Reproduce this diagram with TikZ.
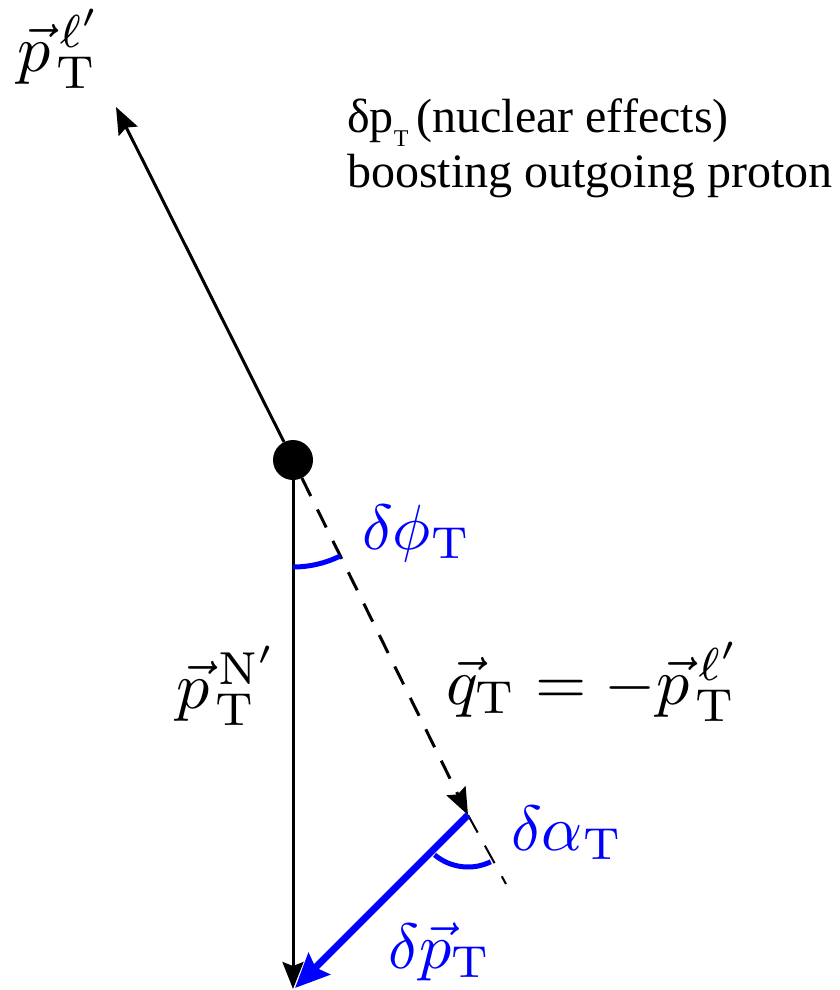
\documentclass[tikz,border=0pt]{standalone}
\usepackage{fontspec}
\newfontfamily\tnr{Liberation Serif}
\usetikzlibrary{arrows.meta}
\newcommand\MathBigK[1]{\scalebox{6.6}{#1}}
\newcommand\MathBigB[1]{\scalebox{6.4}{\color{blue}#1}}
\begin{document}
\begin{tikzpicture}[x=1pt,y=-1pt,
  blk/.style={line width=3pt,black},
  tipk/.style={-{Stealth[length=27pt,width=21pt,inset=4pt]}},
  dsh/.style={dash pattern=on 20pt off 15pt},
  bth/.style={blue,line width=7pt},
  barc/.style={blue,line width=5pt},
  mlab/.style={inner sep=0pt,anchor=base west},
  tlab/.style={inner sep=0pt,anchor=base west,font=\tnr\fontsize{48}{55}\selectfont}]
\useasboundingbox (0,0) rectangle (840,990);
\node[circle,fill=black,minimum size=40pt,inner sep=0pt] (v) at (293,460) {};
\coordinate (pl) at (116,107);
\coordinate (qe) at (468,815);
\coordinate (de) at (506,884);
\coordinate (pn) at (293,989);
\coordinate (dp) at (295,988);
% vectors
\draw[blk,tipk] (v) -- (pl);
\draw[blk,tipk] (v) -- (pn);
\draw[blk,dsh,tipk] (v) -- (qe);
\draw[blk,dsh,line width=2pt] (qe) -- (de);
\draw[bth,-{Stealth[length=34pt,width=30pt,inset=5pt]}] (qe) -- (dp);
% angles
\draw[barc] (v.center) ++(90:107) arc[start angle=90,end angle=63.8,radius=107];
\draw[barc] (qe) ++(130:52) arc[start angle=130,end angle=64,radius=52];
% labels
\node[mlab] (lpl) at (17,71) {\MathBigK{${\vec p}^{\mkern3mu\ell'}_{\mkern2mu\mathrm T}$}};
\node[mlab] (lpn) at (176,708) {\MathBigK{${\vec p}^{\mkern3mu\mathrm{N}'}_{\mkern2mu\mathrm T}$}};
\node[mlab] (lq) at (446,704) {\MathBigK{${\vec q}_{\mathrm T}=-{\vec p}^{\mkern3mu\ell'}_{\mkern2mu\mathrm T}$}};
\node[mlab] (lphi) at (362,549) {\MathBigB{$\delta\phi_{\mathrm T}$}};
\node[mlab] (lal) at (511,850) {\MathBigB{$\delta\alpha_{\mathrm T}$}};
\node[mlab] (ldp) at (388,968) {\MathBigB{$\delta{\vec p}_{\mathrm T}$}};
\node[tlab] (t1) at (347,132) {δp\raisebox{-0.3em}{\fontsize{24}{24}\selectfont T}\,(nuclear effects)};
\node[tlab] (t2) at (347,187) {boosting outgoing proton};
\end{tikzpicture}
\end{document}
